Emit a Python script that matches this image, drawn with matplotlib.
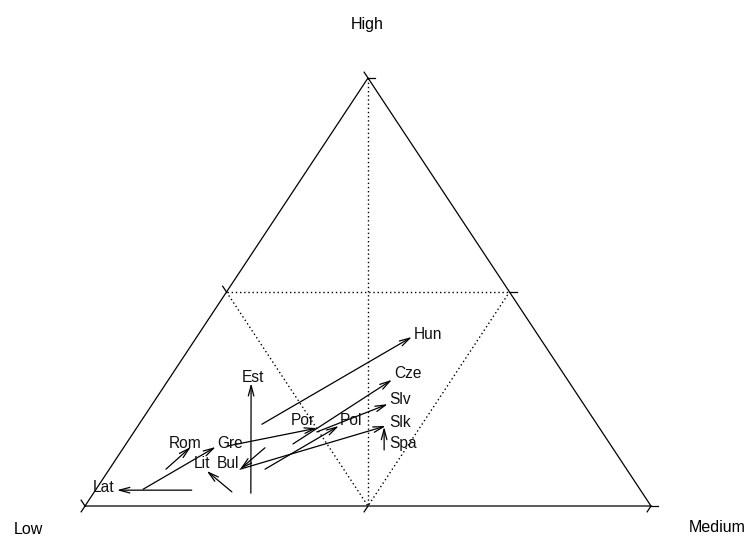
import matplotlib
matplotlib.use("Agg")
import matplotlib.pyplot as plt
import numpy as np

plt.rcParams["font.family"] = ["Liberation Sans", "DejaVu Sans"]

# Education levels (% of population) per country, first and second survey
countries = ["Lat", "Est", "Hun", "Cze", "Slv", "Slk", "Spa",
             "Pol", "Por", "Gre", "Rom", "Lit", "Bul"]
low_1 = [79.3, 69.2, 59.2, 56.0, 50.4, 68.3, 40.6, 63.9, 67.9, 87.8, 81.4, 72.4, 61.4]
medium_1 = [17.0, 27.8, 21.7, 29.5, 32.3, 23.1, 46.3, 27.5, 18.1, 8.3, 10.0, 24.3, 25.0]
high_1 = [3.7, 3.0, 19.1, 14.5, 17.3, 8.6, 13.1, 8.6, 14.0, 3.9, 8.6, 3.3, 13.6]
low_2 = [92.5, 56.3, 22.5, 31.0, 34.6, 37.5, 37.9, 45.8, 49.9, 70.0, 74.4, 74.4, 68.3]
medium_2 = [3.8, 15.0, 38.0, 39.5, 41.6, 43.8, 43.6, 35.5, 31.9, 16.2, 11.8, 17.4, 23.1]
high_2 = [3.7, 28.7, 39.5, 29.5, 23.8, 18.7, 18.5, 18.7, 18.2, 13.8, 13.8, 8.2, 8.6]
corner_labels = ["Low", "Medium", "High"]

# label placement relative to the arrow tip (pixels)
label_offsets = {
    "Lat": (-13, -2), "Est": (2, 1), "Hun": (16, -2), "Cze": (15.5, 2),
    "Slv": (12, 0), "Slk": (14, -1), "Spa": (19, -21), "Pol": (12.5, 1),
    "Por": (-14, 3), "Gre": (14, -1), "Rom": (-6, -1), "Lit": (-5, 3),
    "Bul": (-12, 1),
}


def to_xy(low, med, high):
    low, med, high = (np.asarray(v, float) for v in (low, med, high))
    tot = low + med + high
    m, h = med / tot, high / tot
    return m + h / 2, h


W, H = 749, 538
fig = plt.figure(figsize=(W / 100, H / 100), dpi=100)
fig.patch.set_facecolor("white")
ax = fig.add_axes([85 / W, 32 / H, 566 / W, 428 / H])
ax.set_xlim(0, 1)
ax.set_ylim(0, 1)
ax.axis("off")

line_kw = dict(color="black", lw=0.9, clip_on=False)

# triangle frame
ax.plot([0, 1, 0.5, 0], [0, 0, 1, 0], solid_joinstyle="miter", **line_kw)

# dotted guides at the 50 % levels
dot_kw = dict(color="black", lw=1.0, ls=(0, (1, 2.0)), clip_on=False)
ax.plot([0.25, 0.75], [0.5, 0.5], **dot_kw)
ax.plot([0.5, 0.5], [1, 0], **dot_kw)
ax.plot([0.25, 0.5, 0.75], [0.5, 0, 0.5], **dot_kw)

# small ticks along each side
tick_x = 7 / 566
tick_t = 0.0136
for (x0, y0) in [(1, 0), (0.75, 0.5), (0.5, 1)]:
    ax.plot([x0, x0 + tick_x], [y0, y0], **line_kw)
for (x0, y0) in [(0, 0), (0.5, 0), (1, 0)]:
    ax.plot([x0, x0 - 0.5 * tick_t], [y0, y0 - tick_t], **line_kw)
for (x0, y0) in [(0, 0), (0.25, 0.5), (0.5, 1)]:
    ax.plot([x0, x0 - 0.5 * tick_t], [y0, y0 + tick_t], **line_kw)

# arrows from the first to the second survey
x1, y1 = to_xy(low_1, medium_1, high_1)
x2, y2 = to_xy(low_2, medium_2, high_2)
for name, xa, ya, xb, yb in zip(countries, x1, y1, x2, y2):
    ax.annotate("", xy=(xb, yb), xytext=(xa, ya),
                arrowprops=dict(arrowstyle="->,head_length=7.5,head_width=2.0",
                                mutation_scale=1, shrinkA=0, shrinkB=0,
                                lw=0.9, color="black"),
                annotation_clip=False)
    dx, dy = label_offsets[name]
    ax.annotate(name, xy=(xb, yb), xytext=(dx, dy), textcoords="offset pixels",
                ha="center", va="baseline", fontsize=11.2, color="#111111",
                annotation_clip=False)

# corner names
fig.text(28 / W, 1 - 530 / H, corner_labels[0], ha="center", va="center", fontsize=11.5)
fig.text(717 / W, 1 - 527 / H, corner_labels[1], ha="center", va="center", fontsize=11.5)
fig.text(367 / W, 1 - 25 / H, corner_labels[2], ha="center", va="center", fontsize=11.5)

fig.savefig("out.png", dpi=100, facecolor="white")
